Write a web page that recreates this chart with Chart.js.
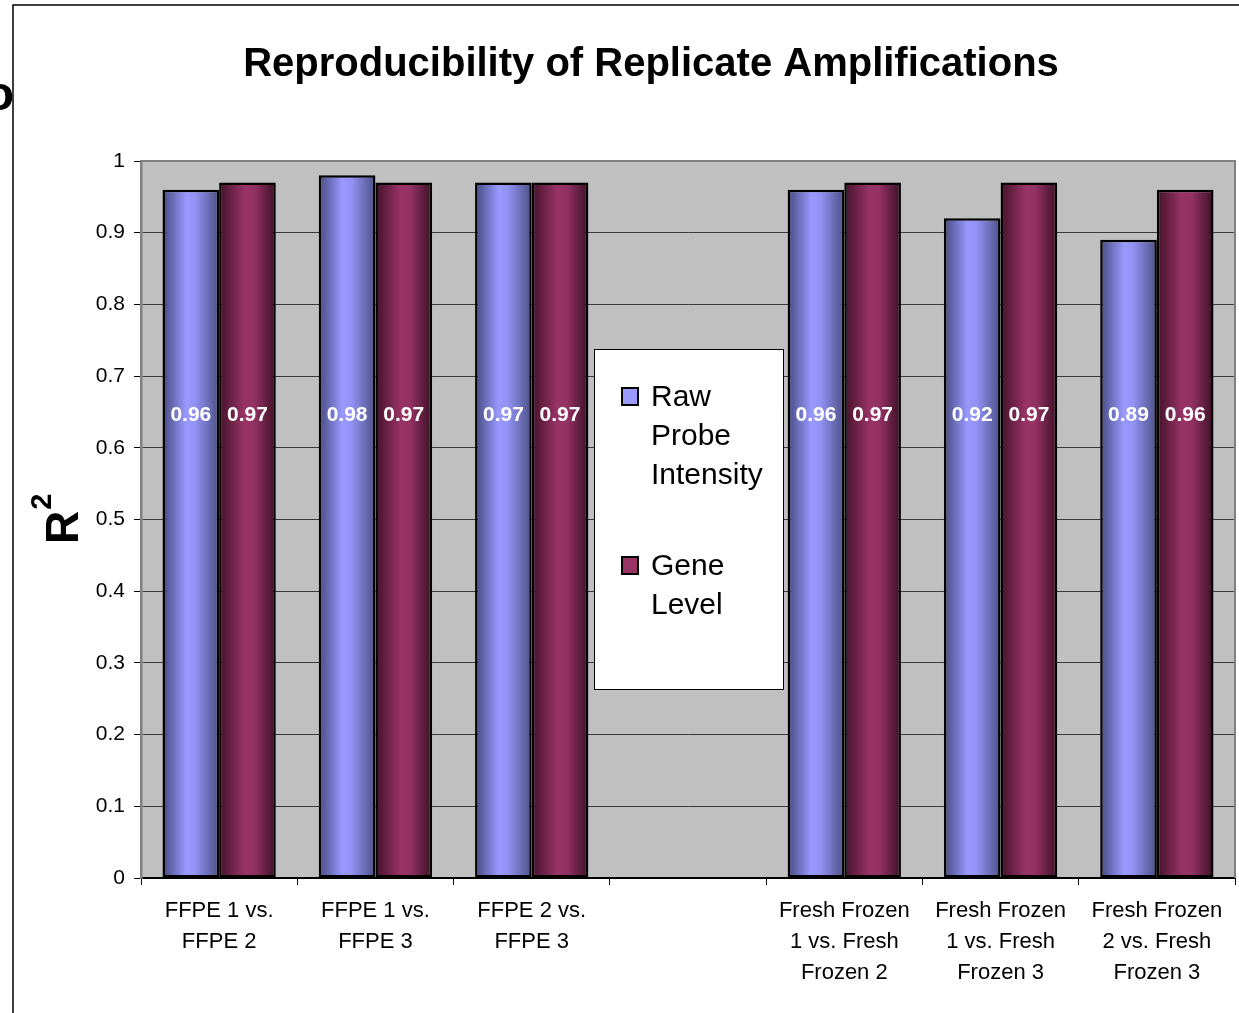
<!DOCTYPE html>
<html>
<head>
<meta charset="utf-8">
<title>Reproducibility of Replicate Amplifications</title>
<script src="https://cdn.jsdelivr.net/npm/chart.js@4.4.1/dist/chart.umd.min.js"></script>
<style>
  html, body { margin: 0; padding: 0; background: #fff; }
  canvas { display: block; }
</style>
</head>
<body>
<canvas id="chartR2" width="1239" height="1013"></canvas>
<script>
const categories = [
  ['FFPE 1 vs.', 'FFPE 2'],
  ['FFPE 1 vs.', 'FFPE 3'],
  ['FFPE 2 vs.', 'FFPE 3'],
  '',
  ['Fresh Frozen', '1 vs. Fresh', 'Frozen 2'],
  ['Fresh Frozen', '1 vs. Fresh', 'Frozen 3'],
  ['Fresh Frozen', '2 vs. Fresh', 'Frozen 3']
];
const rawProbe = [0.96, 0.98, 0.97, null, 0.96, 0.92, 0.89];
const geneLevel = [0.97, 0.97, 0.97, null, 0.97, 0.97, 0.96];
const seriesNames = [['Raw', 'Probe', 'Intensity'], ['Gene', 'Level']];
const yMin = 0, yMax = 1, yStep = 0.1;

const FONT = "'Liberation Sans', Arial, Helvetica, sans-serif";
Chart.defaults.font.family = FONT;
Chart.defaults.color = '#000';

// horizontal shading for each bar: dark edges, light band near the middle
const blueStops = [[0, '#454a7e'], [0.42, '#9999ff'], [0.58, '#9292f3'], [1, '#4c5085']];
const maroonStops = [[0, '#431229'], [0.45, '#993366'], [0.62, '#933163'], [1, '#3c1025']];
const swatches = ['#9999ff', '#993366'];

function barGradient(ctx, left, right, stops) {
  const g = ctx.createLinearGradient(left, 0, right, 0);
  stops.forEach(([p, c]) => g.addColorStop(p, c));
  return g;
}

const shading = {
  id: 'shading',
  afterDatasetsUpdate(chart) {
    chart.data.datasets.forEach((ds, i) => {
      chart.getDatasetMeta(i).data.forEach(el => {
        const half = el.width / 2;
        el.options = Object.assign({}, el.options, {
          backgroundColor: barGradient(chart.ctx, el.x - half, el.x + half, ds.stops)
        });
      });
    });
  }
};

const plotFrame = {
  id: 'plotFrame',
  beforeDraw(chart) {
    const { ctx, chartArea: a } = chart;
    ctx.save();
    ctx.fillStyle = '#fff';
    ctx.fillRect(0, 0, chart.width, chart.height);
    ctx.fillStyle = '#c0c0c0';
    ctx.fillRect(a.left, a.top, a.right - a.left, a.bottom - a.top);
    ctx.restore();
  },
  beforeDatasetsDraw(chart) {
    const { ctx, chartArea: a } = chart;
    ctx.save();
    ctx.strokeStyle = '#808080';
    ctx.lineWidth = 2;
    ctx.beginPath();
    ctx.moveTo(a.left, a.top);
    ctx.lineTo(a.right, a.top);
    ctx.lineTo(a.right, a.bottom);
    ctx.stroke();
    ctx.restore();
  }
};

// white value labels inside the bars, all on one level
const valueLabels = {
  id: 'valueLabels',
  afterDatasetsDraw(chart) {
    const { ctx } = chart;
    const y = chart.scales.y.getPixelForValue(0.645);
    ctx.save();
    ctx.font = 'bold 21px ' + FONT;
    ctx.fillStyle = '#fff';
    ctx.textAlign = 'center';
    ctx.textBaseline = 'middle';
    chart.data.datasets.forEach((ds, i) => {
      chart.getDatasetMeta(i).data.forEach((el, j) => {
        const v = ds.data[j];
        if (v == null) return;
        ctx.fillText(v.toFixed(2), el.x, y);
      });
    });
    ctx.restore();
  }
};

const decorations = {
  id: 'decorations',
  afterDraw(chart) {
    const { ctx } = chart;
    ctx.save();

    // outer frame
    ctx.strokeStyle = '#000';
    ctx.lineWidth = 1.5;
    ctx.beginPath();
    ctx.moveTo(13, chart.height);
    ctx.lineTo(13, 5);
    ctx.lineTo(chart.width, 5);
    ctx.stroke();

    // clipped letter from the slide behind the chart
    ctx.fillStyle = '#000';
    ctx.font = 'bold 48px ' + FONT;
    ctx.textAlign = 'right';
    ctx.textBaseline = 'alphabetic';
    ctx.fillText('o', 14, 110);

    // title
    ctx.font = 'bold 40px ' + FONT;
    ctx.textAlign = 'center';
    ctx.fillText('Reproducibility of Replicate Amplifications', 651, 76);

    // y axis title R²
    ctx.translate(78, 528);
    ctx.rotate(-Math.PI / 2);
    ctx.textAlign = 'left';
    ctx.font = 'bold 46px ' + FONT;
    const rw = ctx.measureText('R').width;
    ctx.fillText('R', -16, 0);
    ctx.font = 'bold 29px ' + FONT;
    ctx.fillText('2', -16 + rw + 1, -27);
    ctx.setTransform(1, 0, 0, 1, 0, 0);

    // legend
    const box = { x: 594, y: 349, w: 189, h: 340 };
    ctx.fillStyle = '#fff';
    ctx.fillRect(box.x, box.y, box.w, box.h);
    ctx.strokeStyle = '#000';
    ctx.lineWidth = 1;
    ctx.strokeRect(box.x + 0.5, box.y + 0.5, box.w, box.h);
    ctx.font = '30px ' + FONT;
    ctx.textAlign = 'left';
    ctx.textBaseline = 'alphabetic';
    const firstBase = [406, 575];
    seriesNames.forEach((lines, i) => {
      const base = firstBase[i];
      ctx.fillStyle = swatches[i];
      ctx.fillRect(622, base - 18, 16, 17);
      ctx.lineWidth = 2;
      ctx.strokeStyle = '#000';
      ctx.strokeRect(622, base - 18, 16, 17);
      ctx.fillStyle = '#000';
      lines.forEach((t, k) => ctx.fillText(t, 651, base + k * 39));
    });

    ctx.restore();
  }
};

const ctx = document.getElementById('chartR2');
const barChart = new Chart(ctx, {
  type: 'bar',
  data: {
    labels: categories,
    datasets: [{
      label: 'Raw Probe Intensity',
      data: rawProbe,
      stops: blueStops,
      backgroundColor: swatches[0],
      borderColor: '#000',
      borderWidth: 2.5,
      borderSkipped: false
    }, {
      label: 'Gene Level',
      data: geneLevel,
      stops: maroonStops,
      backgroundColor: swatches[1],
      borderColor: '#000',
      borderWidth: 2.5,
      borderSkipped: false
    }]
  },
  options: {
    responsive: false,
    animation: false,
    devicePixelRatio: 1,
    categoryPercentage: 0.725,
    barPercentage: 1,
    layout: { padding: { left: 0, top: 161, right: 4, bottom: 0 } },
    plugins: {
      legend: { display: false },
      title: { display: false },
      tooltip: { enabled: false }
    },
    scales: {
      x: {
        grid: { offset: true, drawOnChartArea: false, drawTicks: true, tickLength: 7, color: '#000' },
        border: { color: '#000', width: 2 },
        ticks: { color: '#000', font: { size: 22, lineHeight: 1.41 }, padding: 10, maxRotation: 0, autoSkip: false },
        afterFit(scale) { scale.height = 135; }
      },
      y: {
        min: yMin,
        max: yMax,
        grid: { color: '#3a3a3a', lineWidth: 1, tickLength: 7, tickColor: '#000' },
        border: { color: '#808080', width: 2.5 },
        ticks: {
          stepSize: yStep,
          color: '#000',
          font: { size: 21 },
          padding: 9,
          callback: v => String(+v.toFixed(1))
        },
        afterFit(scale) { scale.width = 141; }
      }
    }
  },
  plugins: [shading, plotFrame, valueLabels, decorations]
});
</script>
</body>
</html>
